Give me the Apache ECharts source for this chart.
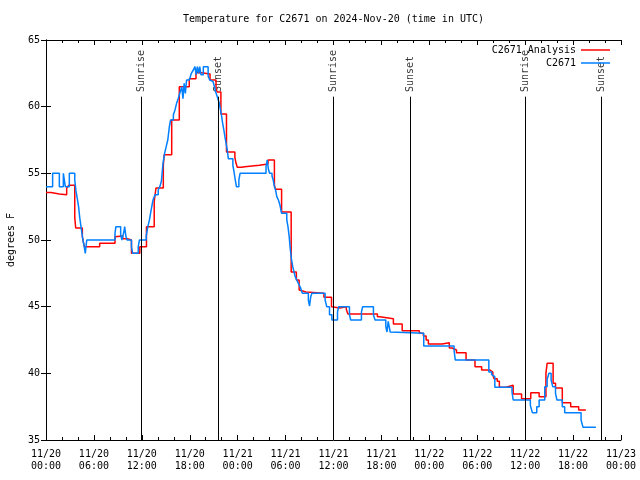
<!DOCTYPE html>
<html>
<head>
<meta charset="utf-8">
<script src="https://cdn.jsdelivr.net/npm/echarts@6/dist/echarts.min.js"></script>
<style>html,body{margin:0;padding:0;background:#fff}#c{width:640px;height:480px}</style>
</head>
<body>
<div id="c"></div>
<script>
// Hours since 2024-11-20 00:00 UTC
const xTickLabels = ['11/20\n00:00','11/20\n06:00','11/20\n12:00','11/20\n18:00','11/21\n00:00','11/21\n06:00','11/21\n12:00','11/21\n18:00','11/22\n00:00','11/22\n06:00','11/22\n12:00','11/22\n18:00','11/23\n00:00'];
const sunEvents = ['Sunrise','Sunset','Sunrise','Sunset','Sunrise','Sunset'];
const sunHours = [11.93, 21.63, 35.98, 45.58, 60.02, 69.54];

const analysisData = [
[0,53.57],[0.63,53.45],[1.67,53.4],[2.59,53.9],[2.84,54.1],[3.6,51.7],[3.72,50.9],[4.55,50.25],[4.8,49.5],
[6.72,49.75],[8.64,50.25],[8.85,50.3],[9.6,50.1],[10.2,50.0],[10.7,49.0],[11.75,49.5],[12.58,51.0],[13.55,52.9],
[13.77,53.9],[14.69,55.6],[14.8,56.4],[15.74,59.0],[16.69,61.5],[17.94,62.1],[18.78,62.55],[19.5,62.45],[20.54,62.0],
[21.29,61.3],[21.45,61.1],[21.9,59.45],[22.6,56.6],[23.65,56.2],[23.8,55.75],[23.95,55.45],[24.5,55.5],[24.9,55.6],
[26.7,55.7],[27.8,56.0],[28.6,54.1],[28.75,53.8],[29.5,52.1],[30.7,47.6],[31.35,47.0],[31.7,46.25],[31.95,46.1],
[32.55,46.0],[34.8,45.7],[35.75,45.0],[35.9,44.9],[36.8,45.0],[37.6,44.8],[37.8,44.45],[41.5,44.25],[41.8,44.1],
[43.5,43.7],[44.6,43.2],[46.75,43.0],[47.25,42.8],[47.6,42.5],[47.88,42.2],[49.6,42.3],[50.5,41.9],[50.85,41.75],
[51.4,41.55],[52.6,41.0],[53.72,40.5],[54.55,40.25],[55.6,40.1],[55.95,39.9],[56.1,39.6],[56.5,39.4],[56.77,38.95],
[57.6,39.1],[58.5,38.45],[59.55,38.1],[60.7,38.55],[61.75,38.25],[62.6,40.0],[62.75,40.75],[63.5,39.25],[63.8,38.9],
[64.65,37.8],[65.7,37.5],[66.7,37.25],[67.6,37.25]
];

const obsData = [
[0,54.0],[0.83,55.0],[1.67,54.0],[2.17,55.0],[2.42,54.0],[2.92,55.0],[3.6,54.5],[3.75,53.7],[3.92,53.1],[4.08,52.5],
[4.22,51.7],[4.36,51.1],[4.5,50.5],[4.62,50.0],[4.76,49.6],[4.92,49.0],[5.1,50.0],[8.64,50.5],[8.75,51.0],[9.35,50.4],
[9.5,50.0],[9.75,50.6],[9.85,51.0],[10.0,50.3],[10.15,50.0],[10.7,49.5],[10.85,49.0],[11.55,49.5],[11.7,50.0],
[12.55,50.3],[12.75,51.0],[12.95,51.5],[13.15,52.2],[13.4,53.0],[13.65,53.4],[14.05,53.75],[14.25,54.0],[14.45,54.4],
[14.65,55.75],[14.85,56.5],[15.05,57.0],[15.25,57.5],[15.45,58.5],[15.6,59.0],[15.95,59.4],[16.15,59.75],[16.35,60.25],
[16.55,60.6],[16.75,61.0],[17.0,61.5],[17.15,60.6],[17.3,61.75],[17.45,61.0],[17.6,62.0],[17.95,62.1],[18.2,62.5],
[18.45,62.75],[18.65,63.0],[18.8,62.4],[18.95,63.0],[19.1,62.5],[19.25,63.0],[19.4,62.4],[19.7,63.0],[20.3,62.3],
[20.5,62.0],[20.7,61.9],[20.9,61.75],[21.1,61.5],[21.25,61.1],[21.45,60.75],[21.7,60.25],[21.85,59.75],[22.0,59.25],
[22.12,58.75],[22.27,58.25],[22.4,57.75],[22.55,57.25],[22.7,56.75],[22.83,56.1],[23.4,55.6],[23.55,55.1],[23.7,54.5],
[23.85,54.0],[24.15,54.5],[24.3,55.0],[27.55,55.5],[27.7,56.0],[27.85,55.3],[28.0,55.0],[28.3,54.8],[28.45,54.5],
[28.6,54.0],[28.75,53.75],[28.9,53.25],[29.1,53.0],[29.3,52.6],[29.5,52.0],[30.15,51.5],[30.3,51.0],[30.45,50.25],
[30.6,49.25],[30.75,48.5],[30.9,48.0],[31.05,47.6],[31.2,47.25],[31.4,47.0],[31.6,46.75],[31.85,46.45],[32.1,46.0],
[32.85,45.5],[33.0,45.05],[33.15,45.75],[33.3,46.0],[34.95,45.5],[35.15,45.0],[35.5,44.4],[35.8,44.0],[36.5,44.6],
[36.65,45.0],[38.0,44.4],[38.15,44.0],[39.5,44.6],[39.65,45.0],[41.0,44.4],[41.2,44.0],[42.55,43.5],[42.7,43.1],
[42.85,43.9],[43.0,44.0],[43.1,43.1],[43.22,43.0],[47.3,42.05],[51.1,41.7],[51.25,41.0],[55.45,40.1],[55.8,39.9],
[56.0,39.75],[56.2,38.95],[58.35,38.6],[58.5,38.0],[60.65,37.6],[60.9,37.05],[61.45,37.5],[61.75,38.0],[62.45,39.0],
[62.75,39.55],[62.98,40.0],[63.25,39.5],[63.45,39.0],[63.8,38.5],[63.98,38.0],[64.65,37.5],[64.95,37.05],[67.0,36.5],
[67.25,35.95],[68.85,35.95]
];

const FONT = 'DejaVu Sans Mono';
const LINE_TOP = 60.75;   // where the sun marker lines stop
const LABEL_AT = 61.1;    // where the rotated sun labels start

const chart = echarts.init(document.getElementById('c'), null, {renderer: 'canvas'});

const axisLine = {show: true, lineStyle: {color: '#000', width: 1}};
const xCommon = {
  type: 'value', min: 0, max: 72, interval: 6,
  splitLine: {show: false},
  axisLine: axisLine,
  axisTick: {show: true, inside: true, length: 5, lineStyle: {color: '#000'}},
  minorTick: {show: true, splitNumber: 3, length: 3, lineStyle: {color: '#000'}},
  minorSplitLine: {show: false}
};
const yCommon = {
  type: 'value', min: 35, max: 65, interval: 5,
  splitLine: {show: false},
  axisLine: axisLine,
  axisTick: {show: true, inside: true, length: 5, lineStyle: {color: '#000'}}
};

chart.setOption({
  animation: false,
  backgroundColor: '#fff',
  textStyle: {fontFamily: FONT},
  title: {
    text: 'Temperature for C2671 on 2024-Nov-20 (time in UTC)',
    left: 333.5, top: 14, textAlign: 'center', padding: 0,
    textStyle: {fontFamily: FONT, fontSize: 10, fontWeight: 'normal', color: '#000'}
  },
  grid: {left: 46, right: 19, top: 40, bottom: 40, containLabel: false, outerBoundsMode: 'none'},
  legend: [
    {data: ['C2671 Analysis'], right: 30, top: 45, orient: 'vertical', align: 'right', icon: 'rect',
     itemWidth: 29, itemHeight: 1.5, itemGap: 0, padding: 0,
     textStyle: {fontFamily: FONT, fontSize: 10, color: '#000'}},
    {data: ['C2671'], right: 30, top: 58, orient: 'vertical', align: 'right', icon: 'rect',
     itemWidth: 29, itemHeight: 1.5, itemGap: 0, padding: 0,
     textStyle: {fontFamily: FONT, fontSize: 10, color: '#000'}}
  ],
  xAxis: [
    Object.assign({}, xCommon, {
      position: 'bottom',
      axisLabel: {show: true, margin: 8, fontFamily: FONT, fontSize: 10, color: '#000', lineHeight: 12,
        formatter: function (v) { return xTickLabels[Math.round(v / 6)]; }}
    }),
    Object.assign({}, xCommon, {position: 'top', axisLabel: {show: false}})
  ],
  yAxis: [
    Object.assign({}, yCommon, {
      position: 'left',
      name: 'degrees F', nameLocation: 'middle', nameRotate: 90, nameGap: 30,
      nameTextStyle: {fontFamily: FONT, fontSize: 10, color: '#000'},
      axisLabel: {show: true, margin: 6, fontFamily: FONT, fontSize: 10, color: '#000'}
    }),
    Object.assign({}, yCommon, {position: 'right', axisLabel: {show: false}})
  ],
  series: [
    {
      type: 'scatter', name: 'sun', symbolSize: 1, silent: true,
      itemStyle: {color: 'transparent'},
      data: sunHours.map(function (h, i) { return {name: sunEvents[i], value: [h, LABEL_AT]}; }),
      label: {show: true, formatter: '{b}', rotate: 90, position: 'inside', align: 'left', verticalAlign: 'middle',
        fontFamily: FONT, fontSize: 10, color: '#000'},
      markLine: {
        silent: true, symbol: ['none', 'none'], animation: false,
        label: {show: false},
        lineStyle: {color: '#000', width: 1, type: 'solid'},
        emphasis: {disabled: true},
        data: sunHours.map(function (h) { return [{coord: [h, 35]}, {coord: [h, LINE_TOP]}]; })
      }
    },
    {
      type: 'line', name: 'C2671 Analysis', data: analysisData, step: 'end',
      symbol: 'none', showSymbol: false, color: '#ff0000',
      lineStyle: {color: '#ff0000', width: 1.5}
    },
    {
      type: 'line', name: 'C2671', data: obsData, step: 'end',
      symbol: 'none', showSymbol: false, color: '#0080ff',
      lineStyle: {color: '#0080ff', width: 1.5}
    }
  ]
});
</script>
</body>
</html>
